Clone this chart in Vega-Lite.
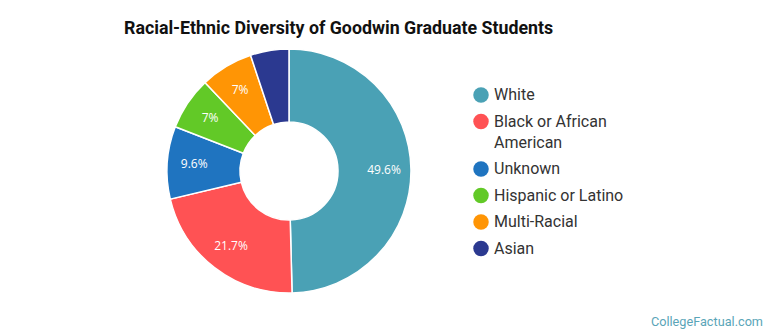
{
  "$schema": "https://vega.github.io/schema/vega-lite/v6.json",
  "width": 578,
  "height": 258,
  "padding": {"top": 20, "left": 0, "right": 0, "bottom": 0},
  "autosize": {"type": "pad"},
  "background": "white",
  "title": {
    "text": "Racial-Ethnic Diversity of Goodwin Graduate Students",
    "anchor": "start",
    "dx": 124,
    "font": "Roboto",
    "fontSize": 17.8,
    "fontWeight": "bold",
    "color": "#111111"
  },
  "config": {
    "view": {"stroke": null},
    "style": {"guide-label": {"lineHeight": 21}}
  },
  "data": {
    "values": [
      {"group": "White", "pct": 49.6, "label": "49.6%", "order": 1},
      {"group": "Black or African American", "pct": 21.7, "label": "21.7%", "order": 2},
      {"group": "Unknown", "pct": 9.6, "label": "9.6%", "order": 3},
      {"group": "Hispanic or Latino", "pct": 7.0, "label": "7%", "order": 4},
      {"group": "Multi-Racial", "pct": 7.0, "label": "7%", "order": 5},
      {"group": "Asian", "pct": 5.1, "label": "", "order": 6}
    ]
  },
  "layer": [
    {
      "mark": {"type": "arc", "innerRadius": 49, "outerRadius": 122, "stroke": "white", "strokeWidth": 1.5},
      "encoding": {
        "theta": {"field": "pct", "type": "quantitative", "stack": true},
        "order": {"field": "order", "type": "quantitative"},
        "color": {
          "field": "group",
          "type": "nominal",
          "sort": ["White", "Black or African American", "Unknown", "Hispanic or Latino", "Multi-Racial", "Asian"],
          "scale": {
            "domain": ["White", "Black or African American", "Unknown", "Hispanic or Latino", "Multi-Racial", "Asian"],
            "range": ["#4aa1b5", "#ff5254", "#1f74c0", "#62c927", "#ff9505", "#2b3990"]
          },
          "legend": {
            "orient": "none",
            "legendX": 473,
            "legendY": 45,
            "title": null,
            "padding": 0,
            "symbolType": "circle",
            "symbolSize": 240,
            "symbolStrokeWidth": 0,
            "labelFont": "Roboto",
            "labelFontSize": 16,
            "labelColor": "#333333",
            "labelOffset": 5,
            "labelLimit": 300,
            "rowPadding": 10.5,
            "labelExpr": "datum.label == 'Black or African American' ? ['Black or African', 'American'] : datum.label",
            "encode": {
              "labels": {"update": {"dy": {"signal": "datum.value == 'Black or African American' ? 10.5 : 0"}}}
            }
          }
        }
      }
    },
    {
      "mark": {"type": "text", "radius": 95, "font": "Open Sans", "fontSize": 12, "fill": "white"},
      "encoding": {
        "theta": {"field": "pct", "type": "quantitative", "stack": true},
        "order": {"field": "order", "type": "quantitative"},
        "text": {"field": "label", "type": "nominal"}
      }
    },
    {
      "data": {"values": [{"site": "CollegeFactual.com"}]},
      "mark": {
        "type": "text",
        "x": {"expr": "width + 185"},
        "y": {"expr": "height + 26"},
        "align": "right",
        "baseline": "alphabetic",
        "font": "Roboto",
        "fontSize": 12.7,
        "fill": "#5aa5b8"
      },
      "encoding": {"text": {"field": "site", "type": "nominal"}}
    }
  ]
}
